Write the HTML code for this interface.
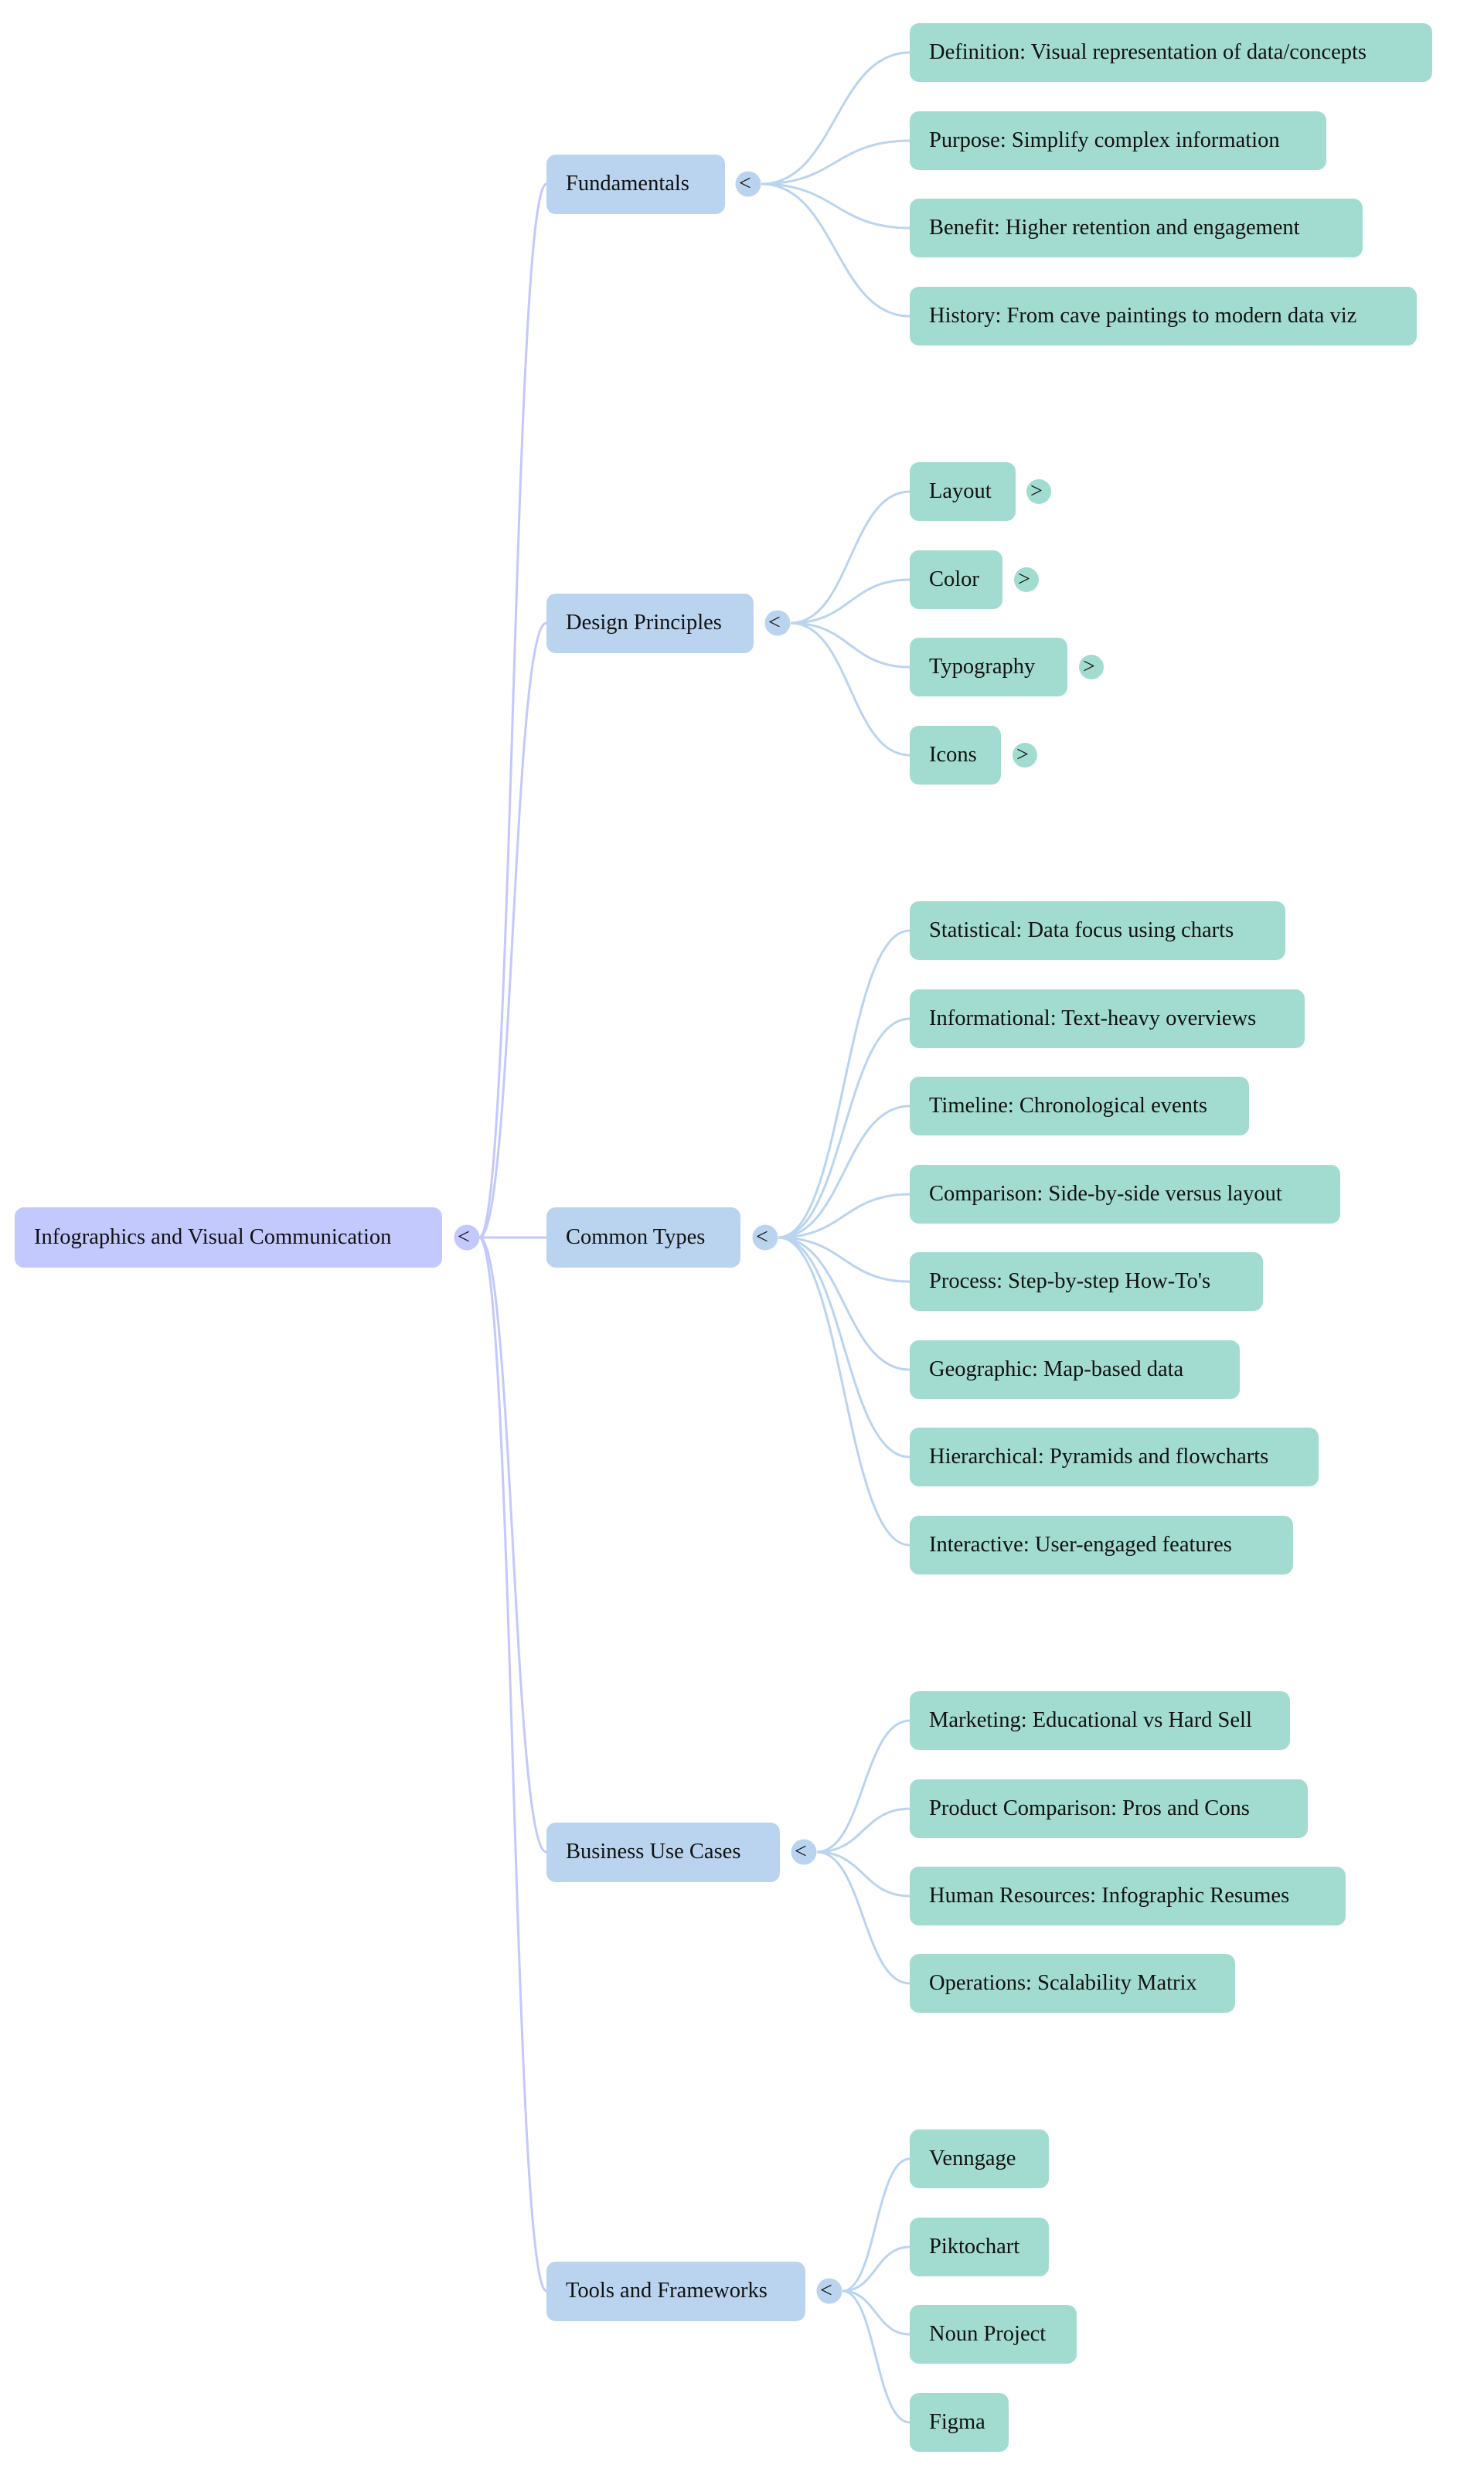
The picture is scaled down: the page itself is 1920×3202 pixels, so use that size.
<!DOCTYPE html>
<html><head><meta charset="utf-8"><style>
html,body{margin:0;padding:0;background:#fff;width:1920px;height:3202px;overflow:hidden}
svg text{font-family:"Liberation Serif",serif;font-size:28.5px;fill:#111}
svg text.t{font-size:28px}
.lf{fill:#a2dcd1}.gp{fill:#bad4ef}.rt{fill:#c3c8fd}
.e1{stroke:#c3c8fd;stroke-width:3;fill:none}.e2{stroke:#bad4ef;stroke-width:3;fill:none}
</style></head><body>
<svg width="1920" height="3202" viewBox="0 0 1920 3202">
<g class="e1">
<path d="M620 1601 C664 1601 663 238 707 238"/>
<path d="M620 1601 C664 1601 663 806 707 806"/>
<path d="M620 1601 L707 1601"/>
<path d="M620 1601 C664 1601 663 2396 707 2396"/>
<path d="M620 1601 C664 1601 663 2964 707 2964"/>
</g>
<g class="e2">
<path d="M985 238 C1081 238 1081 68 1177 68"/>
<path d="M985 238 C1081 238 1081 182 1177 182"/>
<path d="M985 238 C1081 238 1081 295 1177 295"/>
<path d="M985 238 C1081 238 1081 409 1177 409"/>
<path d="M1023 806 C1100 806 1100 636 1177 636"/>
<path d="M1023 806 C1100 806 1100 750 1177 750"/>
<path d="M1023 806 C1100 806 1100 863 1177 863"/>
<path d="M1023 806 C1100 806 1100 977 1177 977"/>
<path d="M1007 1601 C1092 1601 1092 1204 1177 1204"/>
<path d="M1007 1601 C1092 1601 1092 1318 1177 1318"/>
<path d="M1007 1601 C1092 1601 1092 1431 1177 1431"/>
<path d="M1007 1601 C1092 1601 1092 1545 1177 1545"/>
<path d="M1007 1601 C1092 1601 1092 1658 1177 1658"/>
<path d="M1007 1601 C1092 1601 1092 1772 1177 1772"/>
<path d="M1007 1601 C1092 1601 1092 1885 1177 1885"/>
<path d="M1007 1601 C1092 1601 1092 1999 1177 1999"/>
<path d="M1057 2396 C1117 2396 1117 2226 1177 2226"/>
<path d="M1057 2396 C1117 2396 1117 2340 1177 2340"/>
<path d="M1057 2396 C1117 2396 1117 2453 1177 2453"/>
<path d="M1057 2396 C1117 2396 1117 2566 1177 2566"/>
<path d="M1090 2964 C1133 2964 1133 2793 1177 2793"/>
<path d="M1090 2964 C1133 2964 1133 2907 1177 2907"/>
<path d="M1090 2964 C1133 2964 1133 3020 1177 3020"/>
<path d="M1090 2964 C1133 2964 1133 3134 1177 3134"/>
</g>
<rect class="rt" x="19" y="1562" width="553" height="78" rx="12"/>
<text x="44" y="1609">Infographics and Visual Communication</text>
<circle class="rt" cx="604" cy="1601" r="16.5"/><text class="t" x="592" y="1609">&lt;</text>
<rect class="gp" x="707" y="200" width="231" height="77" rx="12"/><text x="732" y="246">Fundamentals</text>
<circle class="gp" cx="968" cy="238" r="16.5"/><text class="t" x="956" y="246">&lt;</text>
<rect class="gp" x="707" y="768" width="268" height="77" rx="12"/><text x="732" y="814">Design Principles</text>
<circle class="gp" cx="1006" cy="806" r="16.5"/><text class="t" x="994" y="814">&lt;</text>
<rect class="gp" x="707" y="1562" width="251" height="78" rx="12"/><text x="732" y="1609">Common Types</text>
<circle class="gp" cx="990" cy="1601" r="16.5"/><text class="t" x="978" y="1609">&lt;</text>
<rect class="gp" x="707" y="2358" width="302" height="77" rx="12"/><text x="732" y="2404">Business Use Cases</text>
<circle class="gp" cx="1040" cy="2396" r="16.5"/><text class="t" x="1028" y="2404">&lt;</text>
<rect class="gp" x="707" y="2926" width="335" height="77" rx="12"/><text x="732" y="2972">Tools and Frameworks</text>
<circle class="gp" cx="1073" cy="2964" r="16.5"/><text class="t" x="1061" y="2972">&lt;</text>
<g>
<rect class="lf" x="1177" y="30" width="676" height="76" rx="12"/><text x="1202" y="76">Definition: Visual representation of data/concepts</text>
<rect class="lf" x="1177" y="144" width="539" height="76" rx="12"/><text x="1202" y="190">Purpose: Simplify complex information</text>
<rect class="lf" x="1177" y="257" width="586" height="76" rx="12"/><text x="1202" y="303">Benefit: Higher retention and engagement</text>
<rect class="lf" x="1177" y="371" width="656" height="76" rx="12"/><text x="1202" y="417">History: From cave paintings to modern data viz</text>

<rect class="lf" x="1177" y="598" width="137" height="76" rx="12"/><text x="1202" y="644">Layout</text>
<circle class="lf" cx="1344" cy="636" r="16"/><text class="t" x="1333" y="644">&gt;</text>
<rect class="lf" x="1177" y="712" width="120" height="76" rx="12"/><text x="1202" y="758">Color</text>
<circle class="lf" cx="1328" cy="750" r="16"/><text class="t" x="1317" y="758">&gt;</text>
<rect class="lf" x="1177" y="825" width="204" height="76" rx="12"/><text x="1202" y="871">Typography</text>
<circle class="lf" cx="1412" cy="863" r="16"/><text class="t" x="1401" y="871">&gt;</text>
<rect class="lf" x="1177" y="939" width="118" height="76" rx="12"/><text x="1202" y="985">Icons</text>
<circle class="lf" cx="1326" cy="977" r="16"/><text class="t" x="1315" y="985">&gt;</text>

<rect class="lf" x="1177" y="1166" width="486" height="76" rx="12"/><text x="1202" y="1212">Statistical: Data focus using charts</text>
<rect class="lf" x="1177" y="1280" width="511" height="76" rx="12"/><text x="1202" y="1326">Informational: Text-heavy overviews</text>
<rect class="lf" x="1177" y="1393" width="439" height="76" rx="12"/><text x="1202" y="1439">Timeline: Chronological events</text>
<rect class="lf" x="1177" y="1507" width="557" height="76" rx="12"/><text x="1202" y="1553">Comparison: Side-by-side versus layout</text>
<rect class="lf" x="1177" y="1620" width="457" height="76" rx="12"/><text x="1202" y="1666">Process: Step-by-step How-To's</text>
<rect class="lf" x="1177" y="1734" width="427" height="76" rx="12"/><text x="1202" y="1780">Geographic: Map-based data</text>
<rect class="lf" x="1177" y="1847" width="529" height="76" rx="12"/><text x="1202" y="1893">Hierarchical: Pyramids and flowcharts</text>
<rect class="lf" x="1177" y="1961" width="496" height="76" rx="12"/><text x="1202" y="2007">Interactive: User-engaged features</text>

<rect class="lf" x="1177" y="2188" width="492" height="76" rx="12"/><text x="1202" y="2234">Marketing: Educational vs Hard Sell</text>
<rect class="lf" x="1177" y="2302" width="515" height="76" rx="12"/><text x="1202" y="2348">Product Comparison: Pros and Cons</text>
<rect class="lf" x="1177" y="2415" width="564" height="76" rx="12"/><text x="1202" y="2461">Human Resources: Infographic Resumes</text>
<rect class="lf" x="1177" y="2528" width="421" height="76" rx="12"/><text x="1202" y="2574">Operations: Scalability Matrix</text>

<rect class="lf" x="1177" y="2755" width="180" height="76" rx="12"/><text x="1202" y="2801">Venngage</text>
<rect class="lf" x="1177" y="2869" width="180" height="76" rx="12"/><text x="1202" y="2915">Piktochart</text>
<rect class="lf" x="1177" y="2982" width="216" height="76" rx="12"/><text x="1202" y="3028">Noun Project</text>
<rect class="lf" x="1177" y="3096" width="128" height="76" rx="12"/><text x="1202" y="3142">Figma</text>
</g>
</svg>
</body></html>
